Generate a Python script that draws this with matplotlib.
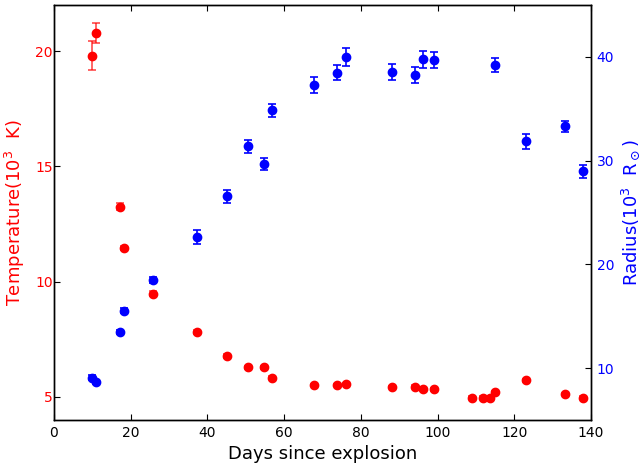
import matplotlib
matplotlib.use("Agg")
import matplotlib.pyplot as plt

# Epochs (days since explosion)
days = [9.8, 10.9, 17.1, 18.2, 25.8, 37.2, 45.1, 50.6, 54.7, 56.8, 67.8,
        73.9, 76.0, 88.1, 94.0, 96.1, 99.1, 109.0, 111.9, 113.7, 115.1,
        123.1, 133.1, 138.0]

# Blackbody temperature (10^3 K)
temp = [19.80, 20.79, 13.25, 11.47, 9.48, 7.82, 6.79, 6.29, 6.29, 5.83, 5.51,
        5.51, 5.55, 5.42, 5.45, 5.33, 5.33, 4.97, 4.97, 4.94, 5.20,
        5.72, 5.14, 4.97]
temp_err = [0.63, 0.44, 0.15, 0.10, 0.10, 0.08, 0.08, 0.06, 0.06, 0.06, 0.05,
            0.05, 0.05, 0.05, 0.05, 0.05, 0.05, 0.05, 0.05, 0.05, 0.05,
            0.05, 0.05, 0.05]

# Radius epochs and values (10^3 R_sun)
rad_days = [9.8, 10.9, 17.1, 18.2, 25.8, 37.2, 45.1, 50.6, 54.7, 56.8, 67.8,
            73.9, 76.0, 88.1, 94.0, 96.1, 99.1, 115.1, 123.1, 133.1, 138.0]
radius = [9.07, 8.66, 13.52, 15.54, 18.52, 22.65, 26.56, 31.39, 29.66, 34.85,
          37.31, 38.50, 40.00, 38.53, 38.24, 39.78, 39.69, 39.21, 31.87,
          33.31, 28.96]
radius_err = [0.25, 0.2, 0.2, 0.25, 0.3, 0.65, 0.6, 0.6, 0.6, 0.65, 0.74,
              0.72, 0.86, 0.75, 0.75, 0.8, 0.8, 0.7, 0.7, 0.5, 0.6]

fig = plt.figure(figsize=(6.41, 4.66), dpi=100)
ax = fig.add_axes([0.0842, 0.0987, 0.8378, 0.8903])
ax2 = ax.twinx()

ax.errorbar(days, temp, yerr=temp_err, fmt='o', color='red', ms=6,
            mec='red', ecolor=(1, 0, 0, 0.7), elinewidth=1.2, capsize=3,
            capthick=1.2, zorder=3)
ax2.errorbar(rad_days, radius, yerr=radius_err, fmt='o', color='blue', ms=6,
             mec='blue', ecolor='blue', elinewidth=1.2, capsize=3,
             capthick=1.2, zorder=3)

ax.set_xlim(0, 140)
ax.set_ylim(4, 22)
ax2.set_ylim(5, 45)

ax.set_xticks([0, 20, 40, 60, 80, 100, 120, 140])
ax.set_yticks([5, 10, 15, 20])
ax2.set_yticks([10, 20, 30, 40])

ax.tick_params(axis='x', direction='in', top=True, length=4, labelsize=10,
               pad=4)
ax.tick_params(axis='y', direction='in', left=True, right=False, length=4,
               labelsize=10, labelcolor='red', pad=1)
ax2.tick_params(axis='y', direction='in', right=True, left=False, length=4,
                labelsize=10, labelcolor='blue', pad=4)

ax.set_xlabel('Days since explosion', fontsize=13)
ax.set_ylabel(r'Temperature(10$^3$  K)', fontsize=13, color='red')
ax2.set_ylabel(r'Radius(10$^3$  R$_\odot$)', fontsize=13, color='blue')
ax.yaxis.set_label_coords(-0.051, 0.5)
ax2.yaxis.set_label_coords(1.054, 0.5)

for a in (ax, ax2):
    for s in a.spines.values():
        s.set_linewidth(1.0)

fig.savefig('out.png', dpi=100)
